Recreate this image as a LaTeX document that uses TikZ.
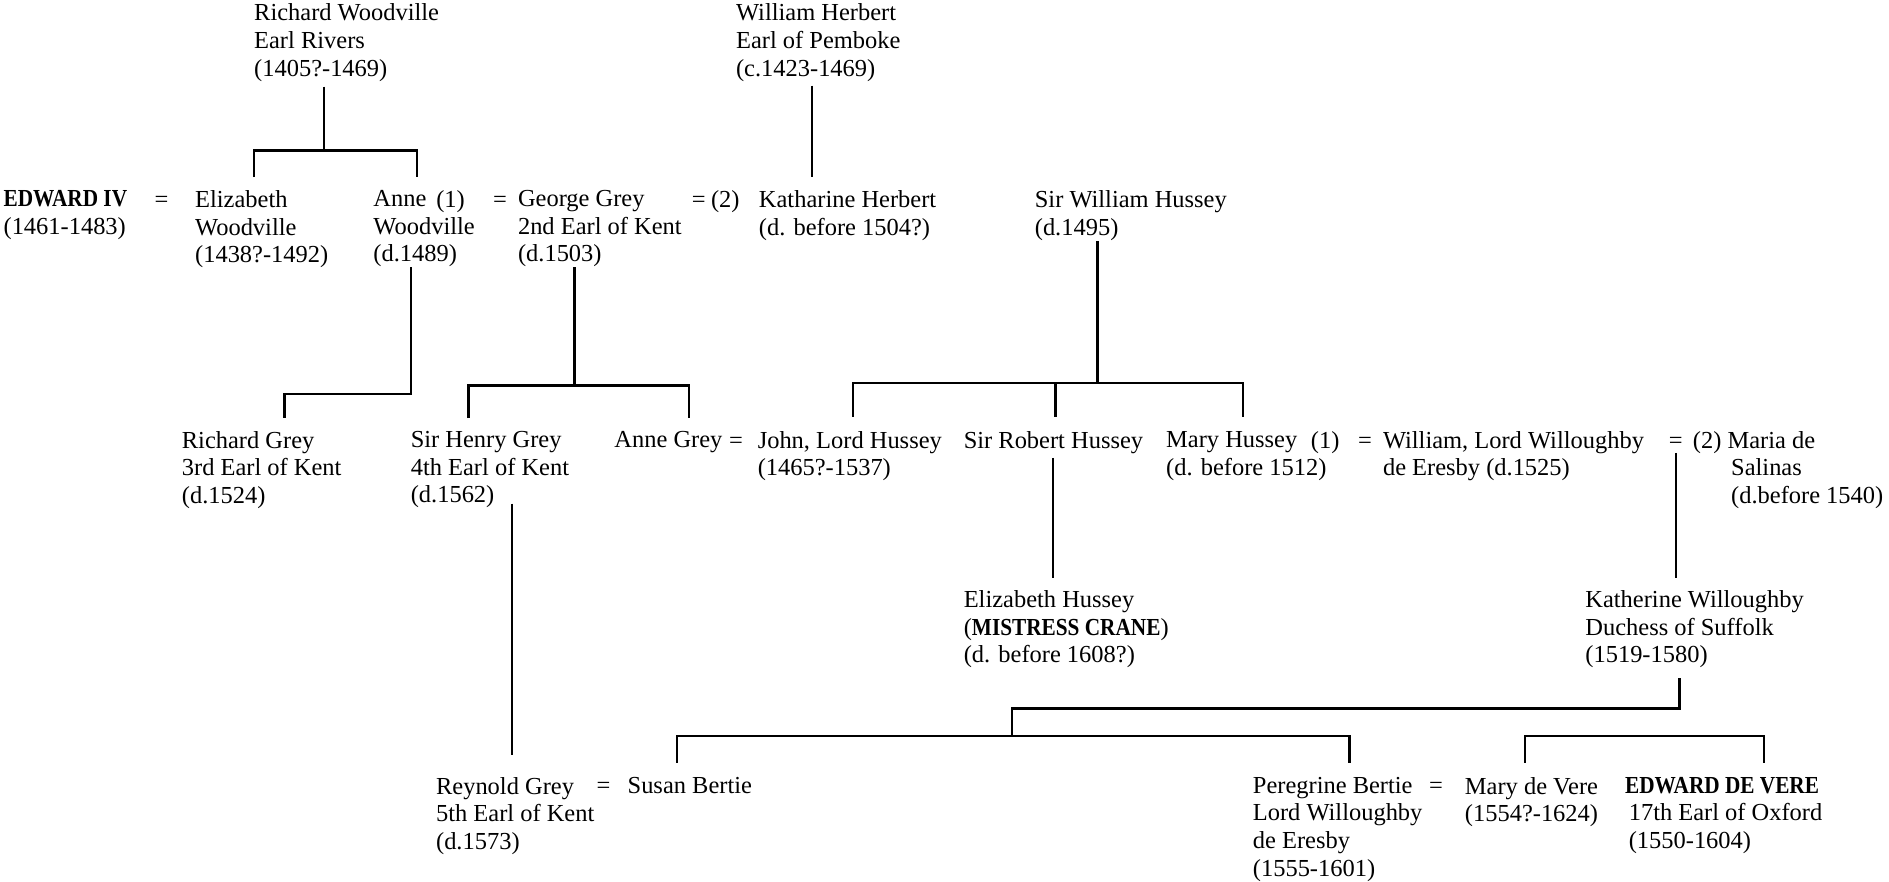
\documentclass[tikz,border=0pt]{standalone}
\usepackage{fontspec}
\setmainfont{Liberation Serif}
\newcommand{\bnm}[1]{\scalebox{0.87}[1]{\textbf{#1}}}
\begin{document}
\begin{tikzpicture}[x=1pt,y=-1pt,
  person/.style={anchor=north west, inner sep=0pt, outer sep=0pt, align=left, font=\fontsize{20.3}{23}\selectfont},
  eqsign/.style={anchor=base, inner sep=0pt, font=\fontsize{20.3}{23}\selectfont},
  numl/.style={anchor=base west, inner sep=0pt, font=\fontsize{20.3}{23}\selectfont},
  link/.style={line width=2pt, line join=miter}]
\useasboundingbox[fill=white] (0,0) rectangle (1568,732);

% ---- generation 0
\node[person] (rw) at (211,3) {Richard Woodville\\Earl Rivers\\(1405?-1469)};
\node[person] (wh) at (611,3) {William Herbert\\Earl of Pemboke\\(c.1423-1469)};

% ---- generation 1
\node[person] (e4) at (3,158) {\bnm{EDWARD IV}\\(1461-1483)};
\node[eqsign] (eqa) at (134,172) {=};
\node[person] (ew) at (162,158) {Elizabeth\\Woodville\\(1438?-1492)};
\node[person] (aw) at (310,158) {Anne\\Woodville\\(d.1489)};
\node[numl] (awn) at (362,172) {(1)};
\node[eqsign] (eqb) at (415,172) {=};
\node[person] (gg) at (430,158) {George Grey\\2nd Earl of Kent\\(d.1503)};
\node[eqsign] (eqc) at (580,172) {=};
\node[numl] (ggn) at (590,172) {(2)};
\node[person] (kh) at (630,158) {Katharine Herbert\\(d. before 1504?)};
\node[person] (swh) at (859,158) {Sir William Hussey\\(d.1495)};

% ---- generation 2
\node[person] (rg) at (151,358) {Richard Grey\\3rd Earl of Kent\\(d.1524)};
\node[person] (hg) at (341,358) {Sir Henry Grey\\4th Earl of Kent\\(d.1562)};
\node[person] (ag) at (510,358) {Anne Grey};
\node[eqsign] (eqd) at (611,372) {=};
\node[person] (jh) at (629,358) {John, Lord Hussey\\(1465?-1537)};
\node[person] (rh) at (800,358) {Sir Robert Hussey};
\node[person] (mh) at (968,358) {Mary Hussey\\(d. before 1512)};
\node[numl] (mhn) at (1088,372) {(1)};
\node[eqsign] (eqe) at (1133,372) {=};
\node[person] (ww) at (1148,358) {William, Lord Willoughby\\de Eresby (d.1525)};
\node[eqsign] (eqf) at (1391,372) {=};
\node[numl] (msn) at (1405,372) {(2)};
\node[person] (ms) at (1434,358) {Maria de\\\hspace*{3pt}Salinas\\\hspace*{3pt}(d.before 1540)};

% ---- generation 3
\node[person] (eh) at (800,490) {Elizabeth Hussey\\(\bnm{MISTRESS CRANE})\\(d. before 1608?)};
\node[person] (kw) at (1316,490) {Katherine Willoughby\\Duchess of Suffolk\\(1519-1580)};

% ---- generation 4
\node[person] (rgr) at (362,645) {Reynold Grey\\5th Earl of Kent\\(d.1573)};
\node[eqsign] (eqg) at (501,659) {=};
\node[person] (sb) at (521,645) {Susan Bertie};
\node[person] (pb) at (1040,645) {Peregrine Bertie\\Lord Willoughby\\de Eresby\\(1555-1601)};
\node[eqsign] (eqh) at (1192,659) {=};
\node[person] (mv) at (1216,645) {Mary de Vere\\(1554?-1624)};
\node[person] (ev) at (1349,645) {\bnm{EDWARD DE VERE}\\\hspace*{3pt}17th Earl of Oxford\\\hspace*{3pt}(1550-1604)};

% ---- connector points
\coordinate (rwA) at (269,72);
\coordinate (rwB) at (269,125);
\coordinate (ewA) at (211,147);
\coordinate (awA) at (346,147);
\coordinate (whA) at (674,71);
\coordinate (khA) at (674,147);
\coordinate (awB) at (341,222);
\coordinate (awC) at (341,327);
\coordinate (rgA) at (236,347);
\coordinate (ggA) at (477,222);
\coordinate (ggB) at (477,320);
\coordinate (hgA) at (389,347);
\coordinate (agA) at (572,347);
\coordinate (swA) at (911,200);
\coordinate (swB) at (911,318);
\coordinate (jhA) at (708,346);
\coordinate (rhA) at (876,346);
\coordinate (mhA) at (1032,346);
\coordinate (hgB) at (425,418);
\coordinate (rgrA) at (425,627);
\coordinate (rhB) at (874,380);
\coordinate (ehA) at (874,480);
\coordinate (wwA) at (1391,376);
\coordinate (kwA) at (1391,480);
\coordinate (kwB) at (1394,563);
\coordinate (kwC) at (1394,588);
\coordinate (kwD) at (840,611);
\coordinate (sbA) at (562,633);
\coordinate (pbA) at (1120,633);
\coordinate (mvA) at (1266,633);
\coordinate (dvL) at (1266,611);
\coordinate (dvR) at (1464,611);
\coordinate (evA) at (1464,633);

% ---- connectors
\draw[link] (rwA) -- (rwB);
\draw[link] (ewA) |- (rwB) -| (awA);
\draw[link] (whA) -- (khA);
\draw[link] (awB) -- (awC) -| (rgA);
\draw[link] (ggA) -- (ggB);
\draw[link] (hgA) |- (ggB) -| (agA);
\draw[link] (swA) -- (swB);
\draw[link] (jhA) |- (swB) -| (mhA);
\draw[link] (rhA) -- (rhA |- swB);
\draw[link] (hgB) -- (rgrA);
\draw[link] (rhB) -- (ehA);
\draw[link] (wwA) -- (kwA);
\draw[link] (kwB) -- (kwC) -| (kwD);
\draw[link] (sbA) |- (kwD) -| (pbA);
\draw[link] (mvA) -- (dvL) -- (dvR) -- (evA);
\end{tikzpicture}
\end{document}
